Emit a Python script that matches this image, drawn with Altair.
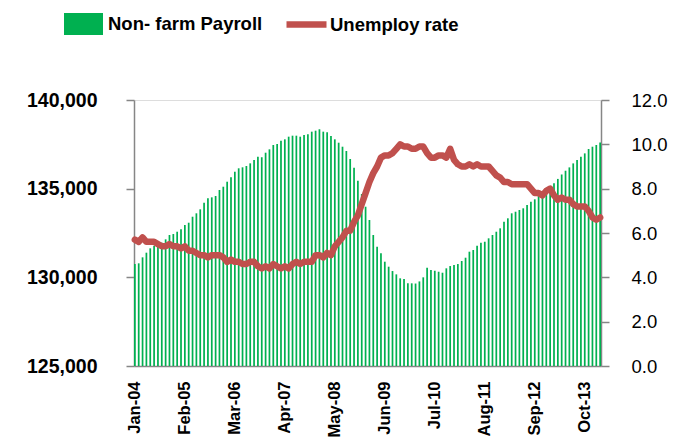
import altair as alt
import pandas as pd

# Monthly categories Jan-04 .. Feb-14
months = [d.strftime("%b-%y") for d in pd.date_range("2004-01-01", "2014-02-01", freq="MS")]
tick_labels = ["Jan-04", "Feb-05", "Mar-06", "Apr-07", "May-08", "Jun-09",
               "Jul-10", "Aug-11", "Sep-12", "Oct-13"]

# Non-farm payroll (thousands)
payroll = [
    130750, 130790, 131128, 131390, 131636, 131766, 131822, 131954, 132142, 132386, 132442, 132572,
    132706, 132950, 133080, 133418, 133610, 133835, 134210, 134454, 134510, 134585, 134924, 135110,
    135392, 135640, 135956, 136148, 136204, 136278, 136428, 136616, 136802, 136768, 137028, 137218,
    137462, 137518, 137706, 137782, 137932, 137988, 137988, 137932, 138026, 138064, 138214, 138270,
    138350, 138214, 138176, 137970, 137782, 137592, 137366, 137124, 136672, 136182, 135450, 134700,
    133982, 133232, 132386, 131726, 131352, 130882, 130600, 130355, 130168, 129944, 129900, 129662,
    129662, 129650, 129770, 130000, 130540, 130410, 130372, 130316, 130260, 130508, 130637, 130694,
    130750, 130920, 131107, 131446, 131540, 131783, 131952, 132008, 132200, 132386, 132572, 132764,
    133140, 133328, 133610, 133700, 133796, 133892, 134078, 134266, 134400, 134585, 134642, 134735,
    135017, 135300, 135550, 135800, 136012, 136200, 136425, 136616, 136802, 136990, 137236, 137366,
    137462, 137600,
]

# Unemployment rate (%)
unemp = [
    5.7, 5.6, 5.8, 5.6, 5.6, 5.6, 5.5, 5.4, 5.4, 5.5, 5.4, 5.4,
    5.3, 5.4, 5.2, 5.2, 5.1, 5.0, 5.0, 4.9, 5.0, 5.0, 5.0, 4.9,
    4.7, 4.8, 4.7, 4.7, 4.6, 4.6, 4.7, 4.7, 4.5, 4.4, 4.5, 4.4,
    4.6, 4.5, 4.4, 4.5, 4.4, 4.6, 4.7, 4.6, 4.7, 4.7, 4.7, 5.0,
    5.0, 4.9, 5.1, 5.0, 5.4, 5.6, 5.8, 6.1, 6.1, 6.5, 6.8, 7.3,
    7.8, 8.3, 8.7, 9.0, 9.4, 9.5, 9.5, 9.6, 9.8, 10.0, 9.9, 9.9,
    9.8, 9.8, 9.9, 9.9, 9.6, 9.4, 9.4, 9.5, 9.5, 9.4, 9.8, 9.3,
    9.1, 9.0, 9.0, 9.1, 9.0, 9.1, 9.0, 9.0, 9.0, 8.8, 8.6, 8.5,
    8.3, 8.3, 8.2, 8.2, 8.2, 8.2, 8.2, 8.0, 7.8, 7.8, 7.7, 7.9,
    8.0, 7.7, 7.5, 7.6, 7.5, 7.5, 7.3, 7.2, 7.2, 7.2, 7.0, 6.7,
    6.6, 6.7,
]

series_bar = "Non- farm Payroll"
series_line = "Unemploy rate"

df = pd.DataFrame({
    "month": months,
    "payroll": payroll,
    "base": [125000] * len(months),
    "unemp": unemp,
    "s1": [series_bar] * len(months),
    "s2": [series_line] * len(months),
})

FONT = "Liberation Sans"
AXIS_GREY = "#868686"

x_enc = alt.X(
    "month:O", sort=months, title=None,
    scale=alt.Scale(paddingInner=0.55, paddingOuter=0),
    axis=alt.Axis(values=tick_labels, labelAngle=-90, ticks=False, labelPadding=15,
                  labelFont=FONT, labelFontSize=16.5, labelFontWeight="bold", labelColor="#000",
                  domainColor=AXIS_GREY, domainWidth=1.5, grid=False),
)

bars = alt.Chart(df).mark_bar().encode(
    x=x_enc,
    y=alt.Y("payroll:Q", title=None,
            scale=alt.Scale(domain=[125000, 140000], zero=False, nice=False),
            axis=alt.Axis(values=[125000, 130000, 135000, 140000], format=",.0f",
                          orient="left", grid=False, tickSize=8, tickWidth=1.5,
                          tickColor=AXIS_GREY, domainColor=AXIS_GREY, domainWidth=1.5,
                          labelPadding=29, labelFont=FONT, labelFontSize=19.5,
                          labelFontWeight="bold", labelColor="#000")),
    y2="base:Q",
    fill=alt.Fill("s1:N", scale=alt.Scale(domain=[series_bar], range=["#00B050"]),
                  legend=alt.Legend(orient="none", legendX=-70, legendY=-95.5, title=None,
                                    padding=0, symbolType="M-1,-0.56L1,-0.56L1,0.56L-1,0.56Z",
                                    symbolSize=1521, symbolStrokeWidth=0, symbolOpacity=1,
                                    labelOffset=5, labelLimit=400, labelFont=FONT,
                                    labelFontSize=18.5, labelFontWeight="bold",
                                    labelColor="#000")),
)

line = alt.Chart(df).mark_line(strokeWidth=6.5, strokeCap="round", strokeJoin="round").encode(
    x=alt.X("month:O", sort=months),
    y=alt.Y("unemp:Q", title=None,
            scale=alt.Scale(domain=[0, 12], nice=False),
            axis=alt.Axis(values=[0, 2, 4, 6, 8, 10, 12], format=".1f", orient="right",
                          grid=False, tickSize=8, tickWidth=1.5, tickColor=AXIS_GREY,
                          domainColor=AXIS_GREY, domainWidth=1.5, labelPadding=22,
                          labelFont=FONT, labelFontSize=18.5, labelColor="#000")),
    stroke=alt.Stroke("s2:N", scale=alt.Scale(domain=[series_line], range=["#C0504D"]),
                      legend=alt.Legend(orient="none", legendX=149, legendY=-99, title=None,
                                        padding=0, symbolType="stroke", symbolSize=1600,
                                        symbolStrokeWidth=6.5, labelOffset=0, labelLimit=400,
                                        labelFont=FONT, labelFontSize=18.5,
                                        labelFontWeight="bold", labelColor="#000")),
)

chart = alt.layer(bars, line).resolve_scale(y="independent", fill="independent",
                                             stroke="independent").properties(
    width=467, height=266,
    autosize=alt.AutoSizeParams(type="none"),
    padding={"left": 126, "top": 92, "right": 77, "bottom": 72},
).configure_view(stroke=None).configure(background="white")

chart.save("out.html", embed_options={"renderer": "svg", "actions": False})
